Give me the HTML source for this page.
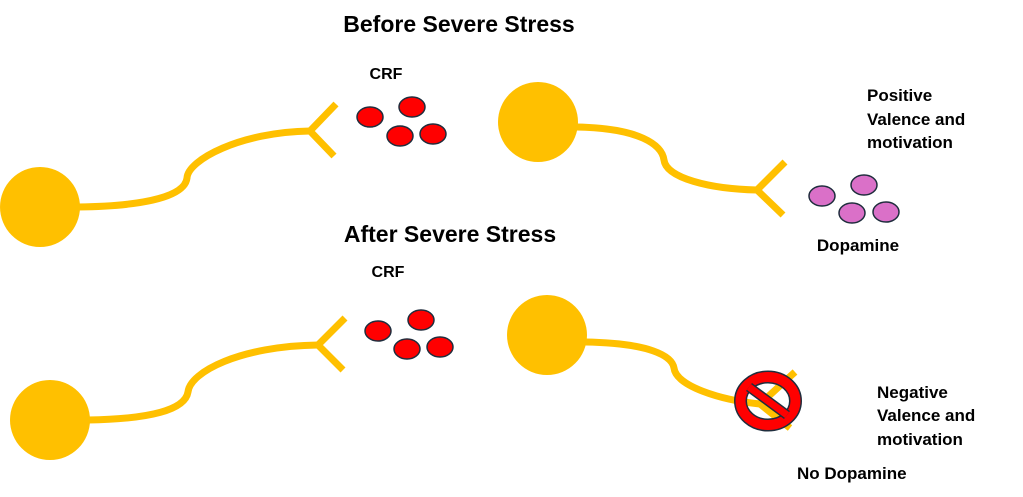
<!DOCTYPE html>
<html><head><style>html,body{margin:0;padding:0;background:#fff;}svg{display:block}</style></head>
<body>
<svg width="1023" height="497" viewBox="0 0 1023 497" xmlns="http://www.w3.org/2000/svg" font-family="Liberation Sans, sans-serif" font-weight="bold">
<g fill="none" stroke="#FFC000" stroke-width="7">
<path d="M78,207 C150,206 185,195 187,178 C188,160 240,132 310,131"/>
<path d="M336,104 L310,131 L334,156"/>
<path d="M576,127 C640,128 662,145 664,160 C666,178 710,189 757,190"/>
<path d="M785,162 L757,190 L783,215"/>
<path d="M88,420 C150,419 185,410 188,392 C190,372 240,346 318,345"/>
<path d="M345,318 L318,345 L343,370"/>
<path d="M585,342 C650,343 672,356 674,368 C676,386 720,400 760,404"/>
<path d="M795,372 L760,404 L790,428"/>
</g>
<g fill="#FFC000">
<circle cx="40" cy="207" r="40"/>
<circle cx="538" cy="122" r="40"/>
<circle cx="50" cy="420" r="40"/>
<circle cx="547" cy="335" r="40"/>
</g>
<g fill="#FF0000" stroke="#1f2d3d" stroke-width="1.5">
<ellipse cx="370" cy="117" rx="13" ry="10"/><ellipse cx="412" cy="107" rx="13" ry="10"/>
<ellipse cx="400" cy="136" rx="13" ry="10"/><ellipse cx="433" cy="134" rx="13" ry="10"/>
<ellipse cx="378" cy="331" rx="13" ry="10"/><ellipse cx="421" cy="320" rx="13" ry="10"/>
<ellipse cx="407" cy="349" rx="13" ry="10"/><ellipse cx="440" cy="347" rx="13" ry="10"/>
</g>
<g fill="#DA70C8" stroke="#1f2d3d" stroke-width="1.5">
<ellipse cx="822" cy="196" rx="13" ry="10"/><ellipse cx="864" cy="185" rx="13" ry="10"/>
<ellipse cx="852" cy="213" rx="13" ry="10"/><ellipse cx="886" cy="212" rx="13" ry="10"/>
</g>
<g>
<ellipse cx="768" cy="401" rx="27.5" ry="24" fill="none" stroke="#1f2d3d" stroke-width="13"/>
<ellipse cx="768" cy="401" rx="27.5" ry="24" fill="none" stroke="#FF0000" stroke-width="10"/>
<path d="M749,387 L787,415" stroke="#1f2d3d" stroke-width="10"/>
<path d="M749,387 L787,415" stroke="#FF0000" stroke-width="7"/>
</g>
<g fill="#000">
<text x="459" y="32" font-size="23" text-anchor="middle">Before Severe Stress</text>
<text x="450" y="242" font-size="23" text-anchor="middle">After Severe Stress</text>
<text x="386" y="79" font-size="16" text-anchor="middle">CRF</text>
<text x="388" y="277" font-size="16" text-anchor="middle">CRF</text>
<text x="867" y="101" font-size="17">Positive</text>
<text x="867" y="125" font-size="17">Valence and</text>
<text x="867" y="148" font-size="17">motivation</text>
<text x="858" y="251" font-size="17" text-anchor="middle">Dopamine</text>
<text x="877" y="398" font-size="17">Negative</text>
<text x="877" y="421" font-size="17">Valence and</text>
<text x="877" y="445" font-size="17">motivation</text>
<text x="797" y="479" font-size="17">No Dopamine</text>
</g>
</svg>
</body></html>
